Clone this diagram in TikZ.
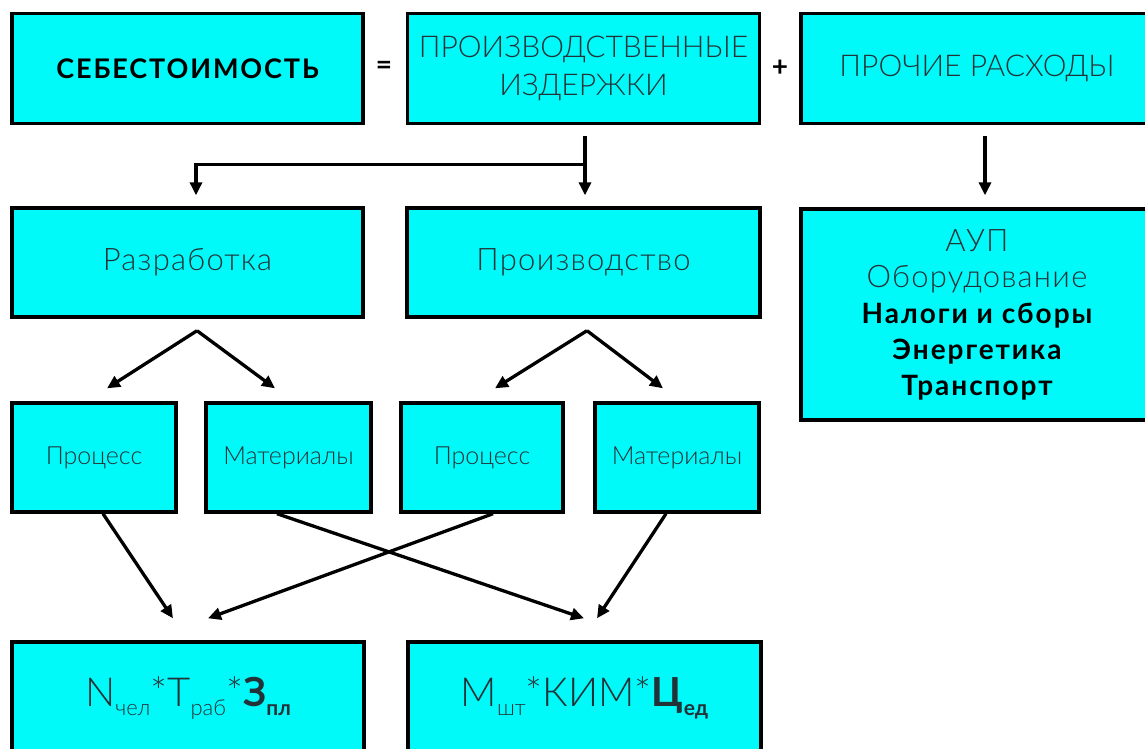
\documentclass[tikz,border=0pt]{standalone}
\usepackage{fontspec}
\setmainfont{Lato}
\newfontfamily\thinf{Lato Light}
\newfontfamily\thinw{Lato Light}[LetterSpace=4]
\newfontfamily\boldf{Lato Bold}
\newfontfamily\boldw{Lato Bold}[LetterSpace=7]
\usetikzlibrary{arrows.meta,calc}
\definecolor{boxfill}{RGB}{0,250,250}
\definecolor{txt}{RGB}{35,50,55}
\newcommand{\mysub}[1]{\raisebox{-0.22em}{\fontsize{22}{22}\selectfont #1}}
\newcommand{\mybsub}[1]{\raisebox{-0.22em}{\boldf\fontsize{21}{21}\selectfont #1}}
\begin{document}
\begin{tikzpicture}[x=1pt,y=-1pt,
  box/.style={draw=black,line width=3.4pt,fill=boxfill,rectangle,inner sep=0pt,align=center,text=txt},
  big/.style={font=\thinf\fontsize{30}{38}\selectfont},
  bigw/.style={font=\thinw\fontsize{31}{38}\selectfont},
  small/.style={font=\thinf\fontsize{25}{28}\selectfont},
  conn/.style={line width=3.3pt,-{Triangle[length=13pt,width=12pt]}},
  sym/.style={font=\boldf\fontsize{28}{28}\selectfont,inner sep=0pt}]
\useasboundingbox (0,0) rectangle (1145,748);
\clip (0,0) rectangle (1145,748);
\fill[white] (0,0) rectangle (1145,748);
% top row
\node[box,minimum width=351pt,minimum height=110pt,font=\boldw\fontsize{27}{30}\selectfont,text=black] (seb) at (187.5,68.5) {СЕБЕСТОИМОСТЬ};
\node[box,big,minimum width=352pt,minimum height=110pt] (piz) at (583.5,68.5) {ПРОИЗВОДСТВЕННЫЕ\\ИЗДЕРЖКИ};
\node[box,big,minimum width=352pt,minimum height=110pt] (pro) at (977,68.5) {ПРОЧИЕ РАСХОДЫ};
\node[sym] (eq) at (384,68) {=};
\node[sym] (plus) at (780,68) {+};
% second row
\node[box,bigw,minimum width=351pt,minimum height=109pt] (raz) at (187.5,262.5) {Разработка};
\node[box,bigw,minimum width=353pt,minimum height=109pt] (prv) at (583.5,262.5) {Производство};
\node[box,minimum width=352pt,minimum height=211pt,font=\fontsize{31}{36}\selectfont] (aup) at (977,314.5)
  {{\thinw АУП}\\{\thinw Оборудование}\\{\boldw\fontsize{28}{36}\selectfont\color{black}Налоги и сборы}\\{\boldw\fontsize{28}{36}\selectfont\color{black}Энергетика}\\{\boldw\fontsize{28}{36}\selectfont\color{black}Транспорт}};
% third row
\node[box,small,minimum width=164pt,minimum height=109pt] (p1) at (94,457.5) {Процесс};
\node[box,small,minimum width=165pt,minimum height=109pt] (m1) at (288.5,457.5) {Материалы};
\node[box,small,minimum width=162pt,minimum height=109pt] (p2) at (482,457.5) {Процесс};
\node[box,small,minimum width=164pt,minimum height=109pt] (m2) at (677,457.5) {Материалы};
% bottom row
\node[box,minimum width=352pt,minimum height=112pt,font=\thinf\fontsize{40}{40}\selectfont] (f1) at (188,698)
  {N\mysub{чел}*T\mysub{раб}*{\boldf З}\mybsub{пл}};
\node[box,minimum width=353pt,minimum height=112pt,font=\thinf\fontsize{40}{40}\selectfont] (f2) at (584.5,698)
  {M\mysub{шт}*КИМ*{\boldf Ц}\mybsub{ед}};
% connectors: top
\coordinate (pizA) at ($(piz.south)+(1.5,11)$);
\coordinate (pizJ) at ($(piz.south)+(1.5,39)$);
\coordinate (razT) at ($(raz.north)+(8.5,-11)$);
\coordinate (prvT) at ($(prv.north)+(1.5,-11)$);
\draw[conn] (pizA) -- (prvT);
\draw[conn] (pizJ) -| (razT);
\coordinate (proA) at ($(pro.south)+(8,11)$);
\coordinate (aupT) at ($(aup.north)+(8,-12)$);
\draw[conn] (proA) -- (aupT);
% connectors: second to third
\coordinate (razP) at ($(raz.south)+(9.5,12)$);
\coordinate (prvP) at ($(prv.south)+(3.5,12)$);
\coordinate (p1T) at ($(p1.north)+(13,-13)$);
\coordinate (m1T) at ($(m1.north)+(-13.5,-13)$);
\coordinate (p2T) at ($(p2.north)+(13,-13)$);
\coordinate (m2T) at ($(m2.north)+(-14,-13)$);
\draw[conn] (razP) -- (p1T);
\draw[conn] (razP) -- (m1T);
\draw[conn] (prvP) -- (p2T);
\draw[conn] (prvP) -- (m2T);
% connectors: third to bottom
\coordinate (p1B) at ($(p1.south)+(9,0)$);
\coordinate (m1B) at ($(m1.south)+(-11.5,0)$);
\coordinate (p2B) at ($(p2.south)+(11,0)$);
\coordinate (m2B) at ($(m2.south)+(-11,0)$);
\coordinate (f1L) at ($(f1.north)+(-15,-22)$);
\coordinate (f1R) at ($(f1.north)+(20,-22)$);
\coordinate (f2L) at ($(f2.north)+(-0.5,-22)$);
\coordinate (f2R) at ($(f2.north)+(12.5,-22)$);
\draw[conn] (p1B) -- (f1L);
\draw[conn] (m1B) -- (f2L);
\draw[conn] (p2B) -- (f1R);
\draw[conn] (m2B) -- (f2R);
\end{tikzpicture}
\end{document}
